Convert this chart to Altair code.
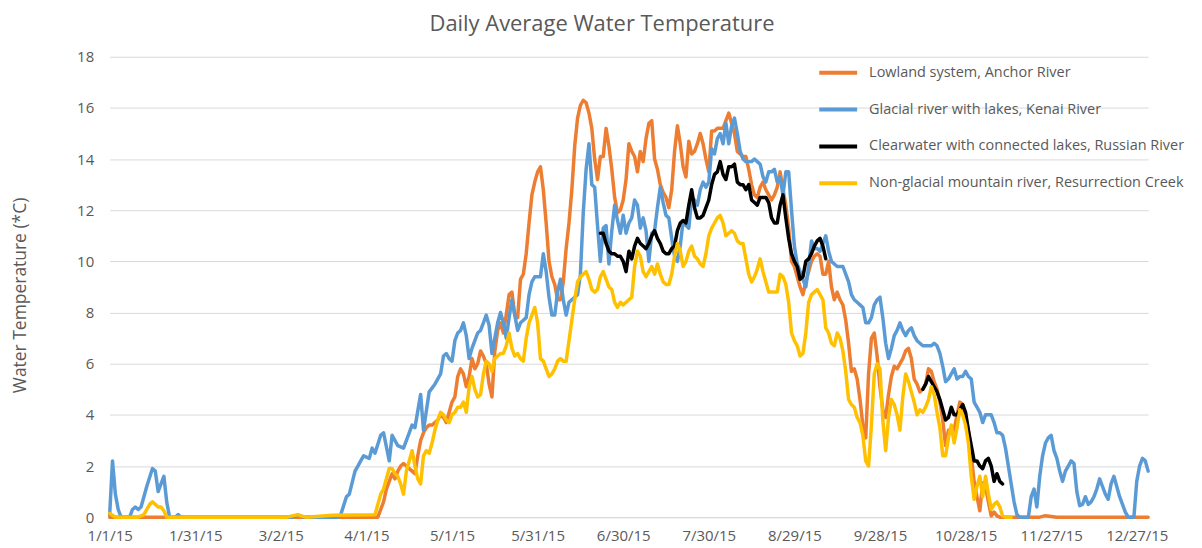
import json
import altair as alt
import pandas as pd

FONT = "Open Sans"
GREY = "#595959"

SERIES = [
    "Lowland system, Anchor River",
    "Glacial river with lakes, Kenai River",
    "Clearwater with connected lakes, Russian River",
    "Non-glacial mountain river, Resurrection Creek",
]
COLORS = ["#ED7D31", "#5B9BD5", "#000000", "#FFC000"]

x_tick_days = list(range(0, 361, 30))
x_tick_labels = ["1/1/15", "1/31/15", "3/2/15", "4/1/15", "5/1/15", "5/31/15",
                 "6/30/15", "7/30/15", "8/29/15", "9/28/15", "10/28/15",
                 "11/27/15", "12/27/15"]
y_ticks = list(range(0, 19, 2))

# ---- Anchor River (orange) ----
anchor_days = [0, 94] + list(range(95, 313)) + [326, 328, 330, 332, 364]
anchor_temp = [0, 0] + [
    0.3, 0.6, 1.1, 1.4, 1.7, 1.5, 1.8, 2.0, 2.1, 2.0,
    1.9, 1.8, 1.7, 2.4, 3.0, 3.3, 3.5, 3.6, 3.6, 3.7,
    3.8, 4.0, 3.9, 3.7, 4.1, 4.5, 4.7, 5.5, 5.8, 5.6,
    5.1, 5.5, 6.2, 5.8, 6.0, 6.5, 6.3, 6.0, 5.2, 4.7,
    6.5, 7.3, 7.6, 7.2, 7.9, 8.7, 8.8, 7.9, 7.8, 9.3,
    9.5, 10.3, 11.5, 12.6, 13.1, 13.5, 13.7, 12.8, 11.5, 10.0,
    9.4, 9.1, 8.5, 8.5, 9.2, 10.5, 11.5, 12.8, 14.5, 15.6,
    16.1, 16.3, 16.2, 15.8, 15.2, 14.0, 13.2, 14.1, 14.1, 15.2,
    14.5, 13.6, 12.5, 11.9, 12.0, 12.4, 13.2, 14.6, 14.3, 14.1,
    13.5, 14.3, 13.9, 14.8, 15.4, 15.5, 14.0, 13.6, 13.0, 12.7,
    12.5, 12.1, 12.8, 14.3, 15.3, 14.6, 13.7, 13.3, 14.7, 14.2,
    14.3, 14.6, 15.0, 14.6, 14.0, 13.5, 15.1, 15.1, 15.2, 15.2,
    15.2, 15.5, 15.8, 15.4, 15.0, 14.3, 14.2, 14.1, 14.1, 13.6,
    13.0, 12.6, 12.5, 12.9, 13.1, 12.8, 12.6, 12.4, 12.6, 12.9,
    13.5, 12.8, 12.2, 11.3, 10.0, 9.8, 9.4, 9.0, 8.7, 9.2,
    9.6, 10.0, 10.2, 10.3, 10.2, 9.5, 9.5, 10.0, 9.0, 8.5,
    8.8, 8.5, 8.3, 7.7, 6.8, 5.7, 5.8, 5.4, 4.6, 3.6,
    3.1, 5.6, 7.0, 7.2, 6.3, 5.1, 4.2, 3.9, 4.8, 5.5,
    5.9, 5.8, 6.0, 6.2, 6.5, 6.6, 6.2, 5.4, 5.2, 4.9,
    5.0, 5.2, 5.8, 5.7, 5.3, 5.0, 4.5, 3.8, 2.8, 3.4,
    3.3, 3.4, 4.0, 4.5, 4.4, 3.9, 3.4, 2.4, 1.4, 0.8,
    0.25, 1.35, 1.2, 0.6, 0.05, 0.2, 0.05, 0,
] + [0, 0.06, 0.03, 0, 0]

# ---- Kenai River (blue) ----
kenai_days = ([0, 1, 2, 3, 4, 7, 8, 9, 10, 11, 13, 15, 16, 17, 18, 19, 20, 21,
               23, 24, 25, 64, 66, 68, 80, 81, 83, 84, 86, 87, 88, 89]
              + [91, 92, 93, 95, 96, 98, 99, 101, 103, 105, 106, 107, 109, 110, 112, 114]
              + list(range(116, 320)) + list(range(322, 365)))
kenai_temp = ([0.1, 2.2, 0.9, 0.3, 0, 0, 0.3, 0.4, 0.3, 0.4, 1.2, 1.9, 1.8, 1.0,
               1.3, 1.6, 0.6, 0, 0, 0.1, 0, 0, 0.08, 0, 0, 0.1, 0.8, 0.9, 1.8, 2.0, 2.2, 2.4]
              + [2.3, 2.7, 2.5, 3.2, 3.3, 2.2, 3.2, 2.8, 2.7, 3.3, 3.6, 3.5, 4.8, 3.4, 4.9, 5.2]
              + [
    5.6, 6.3, 6.4, 6.2, 6.1, 6.9, 7.2, 7.3, 7.6, 7.1,
    6.2, 6.6, 6.9, 7.2, 7.3, 7.6, 7.9, 7.5, 6.4, 7.0,
    7.6, 8.0, 7.6, 7.0, 7.8, 8.5, 7.9, 7.3, 7.6, 7.7,
    7.8, 8.7, 9.2, 9.4, 9.4, 9.4, 10.3, 9.6, 8.6, 7.9,
    7.9, 8.8, 9.3, 8.5, 7.9, 8.4, 8.5, 8.6, 8.7, 9.5,
    11.9, 13.6, 14.6, 13.0, 12.9, 11.4, 10.0, 11.3, 11.4, 9.9,
    11.2, 12.2, 11.6, 11.1, 11.8, 11.1, 11.5, 11.7, 12.4, 12.2,
    11.3, 11.7, 11.2, 10.0, 11.1, 11.2, 12.1, 12.9, 12.3, 11.8,
    11.7, 10.9, 10.2, 10.0, 10.6, 11.6, 11.4, 11.3, 12.5, 12.4,
    12.2, 12.8, 13.1, 12.9, 13.1, 14.4, 14.2, 14.8, 15.0, 14.6,
    15.4, 14.6, 15.3, 15.6, 15.0, 14.3, 14.0, 13.9, 13.9, 13.9,
    14.0, 13.9, 13.8, 13.3, 13.1, 13.5, 13.5, 13.6, 13.1, 13.3,
    12.6, 13.5, 13.5, 12.0, 10.6, 9.9, 9.6, 9.3, 9.0, 9.8,
    10.8, 10.5, 10.5, 10.4, 10.7, 11.0, 10.4, 10.0, 9.9, 9.8,
    9.8, 9.8, 9.5, 9.2, 8.7, 8.5, 8.4, 8.3, 8.2, 7.6,
    7.6, 7.8, 8.3, 8.5, 8.6, 7.8, 6.8, 6.2, 6.6, 7.1,
    7.3, 7.6, 7.3, 7.1, 7.3, 7.4, 7.1, 6.9, 6.8, 6.7,
    6.7, 6.7, 6.7, 6.8, 6.7, 6.4, 5.9, 5.3, 5.4, 5.6,
    5.8, 5.4, 5.5, 5.5, 5.7, 5.5, 5.4, 4.5, 4.3, 4.1,
    3.7, 4.0, 4.0, 4.0, 3.7, 3.3, 3.3, 3.2, 2.7, 2.0,
    1.3, 0.6, 0.1, 0,
] + [
    0, 0.8, 1.1, 0.4, 1.6, 2.4, 2.9, 3.1, 3.2, 2.6,
    2.3, 1.8, 1.4, 1.8, 2.0, 2.2, 2.1, 1.0, 0.45, 0.5,
    0.8, 0.5, 0.6, 0.8, 1.1, 1.5, 1.2, 0.9, 0.7, 1.3,
    1.6, 1.2, 0.8, 0.5, 0.2, 0, 0, 0, 1.4, 2.0,
    2.3, 2.2, 1.8,
])

# ---- Russian River (black), two logged periods ----
russian_days_a = list(range(172, 252))
russian_temp_a = [
    11.1, 11.1, 10.7, 10.4, 10.3, 10.3, 10.2, 10.2, 10.0, 9.6,
    10.4, 10.1, 10.6, 10.9, 10.7, 10.6, 10.5, 10.7, 11.0, 11.2,
    10.9, 10.7, 10.4, 10.3, 10.3, 10.5, 10.6, 11.2, 11.5, 11.6,
    11.5, 12.2, 12.8, 12.1, 11.7, 11.7, 11.8, 12.1, 12.4, 13.0,
    13.4, 13.5, 13.9, 13.4, 13.2, 13.7, 13.7, 13.8, 13.1, 13.0,
    13.0, 12.8, 13.0, 12.4, 12.3, 12.2, 12.5, 12.5, 12.5, 12.3,
    11.7, 11.5, 11.5, 12.2, 12.6, 11.7, 10.9, 10.3, 10.0, 9.8,
    9.3, 9.4, 10.0, 10.1, 10.3, 10.6, 10.8, 10.9, 10.6, 10.1,
]
russian_days_b = list(range(285, 314))
russian_temp_b = [
    5.0, 5.2, 5.5, 5.3, 5.1, 4.9, 4.6, 4.2, 3.8, 3.9,
    4.3, 4.0, 4.0, 4.2, 4.4, 4.1, 3.4, 2.8, 2.2, 2.2,
    2.0, 1.9, 2.2, 2.3, 2.0, 1.4, 1.7, 1.4, 1.3,
]

# ---- Resurrection Creek (yellow) ----
resurrection_days = ([0, 2, 10, 12, 14, 15, 16, 17, 18, 19, 20, 62, 64, 66, 67, 69, 78, 93]
                     + list(range(94, 317)))
resurrection_temp = ([0.15, 0, 0, 0.1, 0.5, 0.6, 0.5, 0.4, 0.4, 0.25, 0, 0, 0.05, 0.1,
                      0.05, 0, 0.08, 0.1] + [
    0.5, 0.9, 1.1, 1.5, 1.9, 1.9, 1.7, 1.6, 1.3, 0.9,
    1.8, 2.2, 2.6, 2.0, 1.5, 1.3, 2.4, 2.6, 2.5, 2.9,
    3.4, 3.8, 4.1, 4.0, 3.8, 3.7, 4.0, 4.1, 4.3, 4.3,
    4.5, 4.1, 5.1, 5.5, 5.0, 4.7, 4.8, 5.6, 6.1, 6.0,
    5.7, 6.2, 6.3, 6.4, 6.4, 6.7, 7.2, 6.6, 6.3, 6.4,
    6.2, 6.1, 7.0, 7.6, 7.9, 8.2, 7.6, 6.2, 6.1, 5.8,
    5.5, 5.6, 5.8, 6.1, 6.2, 6.1, 6.1, 6.9, 7.7, 8.5,
    9.2, 9.4, 9.5, 9.6, 9.3, 8.9, 8.8, 8.9, 9.4, 9.6,
    9.3, 9.0, 8.9, 8.4, 8.2, 8.4, 8.3, 8.4, 8.5, 8.6,
    9.8, 10.4, 10.2, 9.6, 9.4, 9.6, 9.8, 9.5, 9.9, 9.5,
    9.2, 9.1, 9.1, 9.5, 10.2, 10.7, 10.4, 9.8, 10.0, 10.4,
    10.6, 10.2, 10.1, 9.9, 9.8, 10.3, 11.0, 11.3, 11.5, 11.7,
    11.8, 11.5, 11.0, 11.1, 11.2, 11.1, 10.8, 10.7, 10.7, 10.1,
    9.5, 9.2, 9.4, 9.7, 10.1, 9.6, 9.2, 8.8, 8.8, 8.8,
    8.8, 9.5, 9.4, 9.1, 8.4, 7.2, 6.9, 6.7, 6.3, 6.4,
    7.2, 8.4, 8.7, 8.8, 8.9, 8.7, 8.5, 7.4, 7.2, 6.8,
    6.7, 7.2, 7.0, 6.5, 5.7, 4.6, 4.4, 4.3, 3.9, 3.7,
    3.2, 2.2, 2.0, 3.6, 5.6, 6.0, 5.8, 3.8, 2.6, 3.9,
    4.6, 4.4, 4.0, 3.4, 4.7, 5.6, 5.3, 4.9, 4.5, 4.0,
    4.2, 4.1, 4.3, 4.6, 5.1, 4.8, 4.1, 3.5, 2.4, 2.4,
    3.1, 3.6, 2.9, 3.5, 4.2, 4.0, 3.6, 2.9, 1.6, 0.7,
    1.2, 1.6, 0.8, 1.6, 0.9, 0.3, 0.5, 0.6, 0.4, 0.05,
    0, 0, 0,
])

segments = [
    (SERIES[0], "a", anchor_days, anchor_temp),
    (SERIES[1], "a", kenai_days, kenai_temp),
    (SERIES[2], "a", russian_days_a, russian_temp_a),
    (SERIES[2], "b", russian_days_b, russian_temp_b),
    (SERIES[3], "a", resurrection_days, resurrection_temp),
]
rows = []
for name, seg, days, temps in segments:
    assert len(days) == len(temps), (name, seg, len(days), len(temps))
    for d, t in zip(days, temps):
        rows.append({"series": name, "segment": seg, "day": d, "temp": t})
df = pd.DataFrame(rows)

label_expr = json.dumps(x_tick_labels) + "[round(datum.value / 30)]"

color_scale = alt.Scale(domain=SERIES, range=COLORS)
legend = alt.Legend(
    title=None, orient="none", legendX=710, legendY=-5, direction="vertical",
    symbolType="stroke", symbolSize=1444, symbolStrokeWidth=4,
    labelFont=FONT, labelFontSize=14.5, labelColor=GREY, labelLimit=500,
    labelOffset=10, rowPadding=8,
)

x_enc = alt.X(
    "day:Q",
    scale=alt.Scale(domain=[0, 364], nice=False, zero=False),
    axis=alt.Axis(values=x_tick_days, labelExpr=label_expr, title=None, grid=False,
                  ticks=False, domain=True, domainColor="#d9d9d9", labelPadding=11,
                  labelFlush=False, labelOverlap=False),
)
y_enc = alt.Y(
    "temp:Q",
    scale=alt.Scale(domain=[0, 18], nice=False),
    axis=alt.Axis(values=y_ticks, title="Water Temperature (*C)", grid=True,
                  gridColor="#d9d9d9", gridWidth=1, ticks=False, domain=False,
                  labelPadding=16, titleX=-89, titleY=239, titleAngle=-90,
                  titleAlign="center", titleBaseline="middle", titleFontSize=17.5,
                  titleFont=FONT, titleColor=GREY, titleFontWeight="normal"),
)

layers = []
for name in SERIES:
    layers.append(
        alt.Chart(df)
        .transform_filter(alt.datum.series == name)
        .mark_line(strokeWidth=3.5, strokeJoin="round", strokeCap="round")
        .encode(
            x=x_enc,
            y=y_enc,
            color=alt.Color("series:N", scale=color_scale, legend=legend),
            detail="segment:N",
        )
    )

chart = (
    alt.layer(*layers)
    .properties(
        width=1042,
        height=462,
        autosize=alt.AutoSizeParams(type="none"),
        padding={"left": 102, "top": 48, "right": 46, "bottom": 28},
        title=alt.TitleParams(
            "Daily Average Water Temperature", font=FONT, fontSize=22,
            fontWeight="normal", color=GREY, anchor="middle", frame="group",
            dx=-27, offset=14,
        ),
    )
    .configure_view(stroke=None)
    .configure_axis(labelFont=FONT, labelFontSize=15, labelColor=GREY)
)

chart.save("out.html", embed_options={"renderer": "svg", "actions": False})
